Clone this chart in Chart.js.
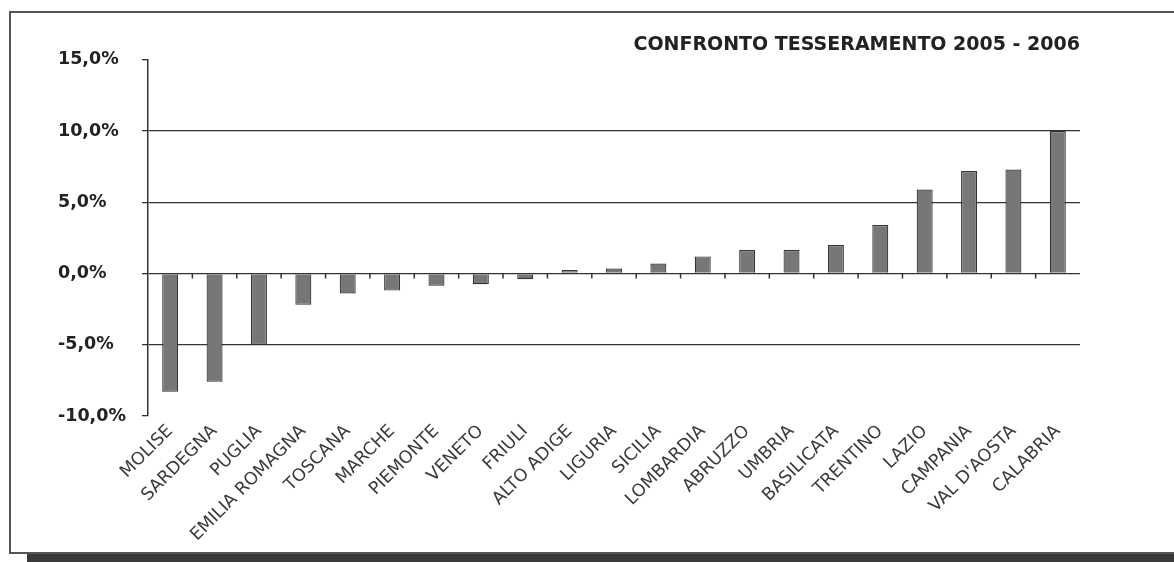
<!DOCTYPE html>
<html>
<head>
<meta charset="utf-8">
<title>Confronto tesseramento 2005 - 2006</title>
<script src="https://cdn.jsdelivr.net/npm/chart.js@4.4.1/dist/chart.umd.min.js"></script>
<style>
  html, body { margin: 0; padding: 0; background: #fff; overflow: hidden; }
  #frame {
    position: absolute; left: 9px; top: 11px;
    width: 1200px; height: 543px;
    box-sizing: border-box;
    border: 2px solid #555;
    box-shadow: 18px 9px 0 #3a3a3a;
  }
  #wrap { position: absolute; left: 0; top: 0; width: 1174px; height: 562px; }
</style>
</head>
<body>
<div id="frame"></div>
<div id="wrap"><canvas id="tessChart" width="1174" height="562"></canvas></div>
<script>
// Regioni ordinate per variazione
const regioni = ['MOLISE', 'SARDEGNA', 'PUGLIA', 'EMILIA ROMAGNA', 'TOSCANA', 'MARCHE',
    'PIEMONTE', 'VENETO', 'FRIULI', 'ALTO ADIGE', 'LIGURIA', 'SICILIA', 'LOMBARDIA',
    'ABRUZZO', 'UMBRIA', 'BASILICATA', 'TRENTINO', 'LAZIO', 'CAMPANIA', "VAL D'AOSTA", 'CALABRIA'];

// Variazione % 2005 -> 2006
const variazione = [-8.3, -7.6, -5.0, -2.2, -1.4, -1.2, -0.85, -0.75, -0.4, 0.25, 0.35,
    0.7, 1.2, 1.65, 1.65, 2.0, 3.4, 5.9, 7.2, 7.3, 10.0];

const yMin = -10;
const yMax = 15;
const yStep = 5;

// small downward tick marks on the zero line, between categories
const zeroTicks = {
    id: 'zeroTicks',
    afterDatasetsDraw(chart) {
        const x = chart.scales.x, y = chart.scales.y;
        const y0 = y.getPixelForValue(0);
        const ctx = chart.ctx;
        ctx.save();
        ctx.strokeStyle = '#333';
        ctx.lineWidth = 1.5;
        for (let i = 0; i < regioni.length - 1; i++) {
            const bx = (x.getPixelForTick(i) + x.getPixelForTick(i + 1)) / 2;
            ctx.beginPath();
            ctx.moveTo(bx, y0);
            ctx.lineTo(bx, y0 + 5);
            ctx.stroke();
        }
        ctx.restore();
    }
};

Chart.defaults.font.family = "'DejaVu Sans', sans-serif";

const ctx = document.getElementById('tessChart').getContext('2d');
new Chart(ctx, {
    type: 'bar',
    data: {
        labels: regioni,
        datasets: [{
            data: variazione,
            backgroundColor: '#777',
            borderColor: '#333',
            borderWidth: 1.2,
            barPercentage: 0.36,
            categoryPercentage: 1
        }]
    },
    options: {
        responsive: false,
        animation: false,
        layout: {
            padding: { left: 58, right: 94, top: 33, bottom: 0 }
        },
        plugins: {
            legend: { display: false },
            tooltip: { enabled: false },
            title: {
                display: true,
                text: 'CONFRONTO TESSERAMENTO 2005 - 2006',
                align: 'end',
                color: '#222',
                font: { size: 19, weight: 'bold' },
                padding: { top: 1, bottom: 3 }
            }
        },
        scales: {
            x: {
                grid: { display: false, drawTicks: false },
                border: { display: false },
                ticks: {
                    autoSkip: false,
                    minRotation: 45,
                    maxRotation: 45,
                    padding: 5,
                    color: '#3a3a3a',
                    font: { size: 17.5 }
                },
                afterFit(scale) { scale.height = 146; }
            },
            y: {
                min: yMin,
                max: yMax,
                ticks: {
                    stepSize: yStep,
                    crossAlign: 'far',
                    color: '#222',
                    font: { size: 17.5, weight: 'bold' },
                    callback: v => v.toFixed(1).replace('.', ',') + '%'
                },
                grid: {
                    color: c => (c.tick && (c.tick.value === yMax || c.tick.value === yMin)) ? 'rgba(0,0,0,0)' : '#333',
                    lineWidth: 1.3,
                    tickColor: '#333',
                    tickLength: 6
                },
                border: { display: true, color: '#333', width: 1.5 },
                afterFit(scale) { scale.width = 90; }
            }
        }
    },
    plugins: [zeroTicks]
});
</script>
</body>
</html>
